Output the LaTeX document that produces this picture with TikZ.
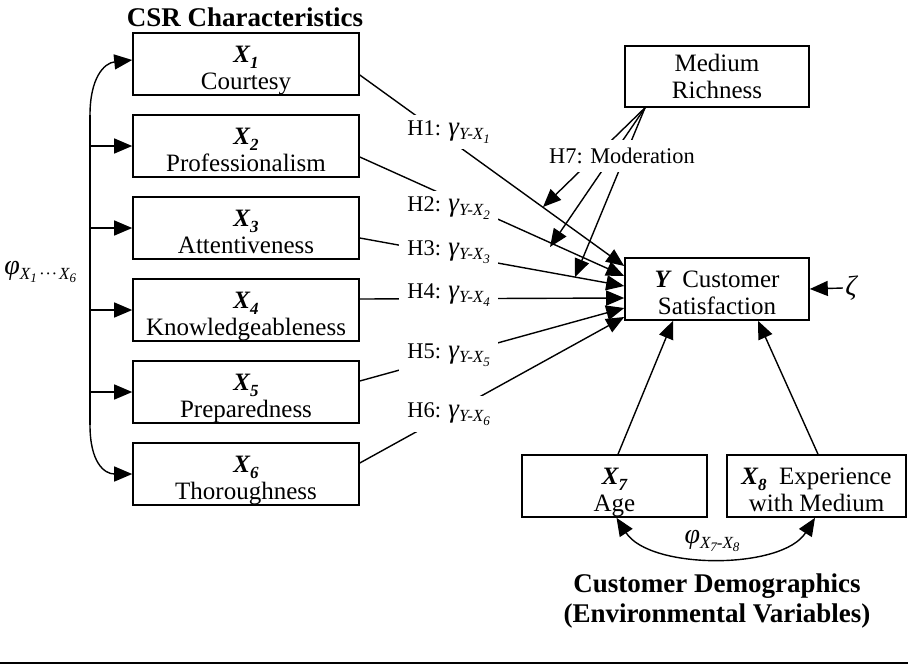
\documentclass[tikz,border=0pt]{standalone}
\usepackage{fontspec}
\setmainfont{Liberation Serif}
\usetikzlibrary{arrows.meta}
\newcommand\bodyfont{\fontsize{12.5}{13.5}\selectfont}
\newcommand\lblfont{\fontsize{11.2}{12}\selectfont}
\newcommand\headfont{\fontsize{13.5}{15}\selectfont\bfseries}
\newcommand\sbs[1]{\raisebox{-0.45ex}{\fontsize{8.5}{9}\selectfont #1}}
\newcommand\ssbs[1]{\raisebox{-0.45ex}{\fontsize{6.5}{7}\selectfont #1}}
\newcommand\xv[1]{{\bfseries\itshape X\sbs{#1}}}
\newcommand\gam[1]{{\itshape{\fontsize{13.5}{14}\selectfont γ}\sbs{Y-X\ssbs{#1}}}}
\newcommand\twol[2]{\raisebox{-3.5pt}[\height][\depth]{\begin{tabular}{@{}c@{}}#1\\#2\end{tabular}}}
\begin{document}
\begin{tikzpicture}[x=0.5pt,y=-0.5pt,
  box/.style={draw,line width=0.8pt,inner sep=0pt,align=center,font=\bodyfont},
  lbox/.style={box,minimum width=113pt,minimum height=31pt},
  arr/.style={-{Triangle[length=9pt,width=7.5pt]},line width=0.7pt},
  dbl/.style={{Triangle[length=9pt,width=7.5pt]}-{Triangle[length=9pt,width=7.5pt]},line width=0.7pt},
  hl/.style={anchor=west,fill=white,inner xsep=4pt,inner ysep=3pt,font=\lblfont},
  txt/.style={font=\bodyfont,inner sep=1pt}]
\useasboundingbox (0,0) rectangle (908,664);
\renewcommand\arraystretch{1.0}
\setlength\tabcolsep{0pt}

% title
\node[font=\headfont] (csr) at (245,17) {CSR Characteristics};

% left boxes
\node[lbox] (x1) at (246,64) {\twol{\xv{1}}{Courtesy}};
\node[lbox] (x2) at (246,146) {\twol{\xv{2}}{Professionalism}};
\node[lbox] (x3) at (246,228) {\twol{\xv{3}}{Attentiveness}};
\node[lbox] (x4) at (246,310) {\twol{\xv{4}}{Knowledgeableness}};
\node[lbox] (x5) at (246,392) {\twol{\xv{5}}{Preparedness}};
\node[lbox] (x6) at (246,474) {\twol{\xv{6}}{Thoroughness}};

% right boxes
\node[box,minimum width=92pt,minimum height=30.5pt] (med) at (717,76.5) {Medium\\Richness};
\node[box,minimum width=92pt,minimum height=31pt] (y) at (717,289) {\twol{{\bfseries\itshape Y}\ \ Customer}{Satisfaction}};
\node[box,minimum width=92.5pt,minimum height=31pt] (age) at (614.5,486) {\twol{\xv{7}}{Age}};
\node[box,minimum width=89.5pt,minimum height=31pt] (x8) at (816.5,486) {\twol{\xv{8}\ \ Experience}{with Medium}};

% left bracket
\coordinate (bt) at (90,115);
\coordinate (bb) at (90,425);
\draw[line width=0.7pt] (bt) -- (bb);
\draw[arr] (bt) .. controls (90,78) and (104,63) .. ([yshift=2pt]x1.west);
\draw[arr] (bb) .. controls (90,462) and (104,474) .. (x6.west);
\foreach \n in {x2,x3,x4,x5}{\draw[arr] (\n.west -| bt) -- (\n.west);}
\node[txt,anchor=west] (phi) at (2,272) {{\itshape{\fontsize{14}{14}\selectfont φ}\sbs{X\ssbs{1}\,·\kern1pt·\kern1pt·\,X\ssbs{6}}}};

% H paths
\draw[arr] ([yshift=-5.5pt]x1.east) -- ([yshift=11.5pt]y.west);
\draw[arr] ([yshift=-5.5pt]x2.east) -- ([yshift=6.5pt]y.west);
\draw[arr] ([yshift=-5pt]x3.east) -- ([yshift=1.5pt]y.west);
\draw[arr] ([yshift=5.5pt]x4.east) -- ([yshift=-4.5pt]y.west);
\draw[arr] ([yshift=5.5pt]x5.east) -- ([yshift=-9.5pt]y.west);
\draw[arr] ([yshift=5.5pt]x6.east) -- ([yshift=-14pt]y.west);
\node[hl] (h1) at (399,132) {H1: \gam{1}};
\node[hl] (h2) at (399,208) {H2: \gam{2}};
\node[hl] (h3) at (399,252) {H3: \gam{3}};
\node[hl] (h4) at (399,295) {H4: \gam{4}};
\node[hl] (h5) at (399,355) {H5: \gam{5}};
\node[hl] (h6) at (399,414) {H6: \gam{6}};

% moderation
\coordinate (m1) at (543,207);
\coordinate (m2) at (550,247);
\coordinate (m3) at (575,277);
\foreach \m in {m1,m2,m3}{\draw[arr] ([xshift=-36pt]med.south) -- (\m);}
\node[fill=white,inner xsep=2pt,inner ysep=4pt,font=\lblfont] (h7) at (622,156) {H7: Moderation};

% zeta
\node[txt] (z) at (851,288) {{\itshape\fontsize{14}{14}\selectfont ζ}};
\draw[arr] (z.west) -- (y.east);

% demographics
\draw[arr] ([xshift=1.75pt]age.north) -- ([xshift=-22pt]y.south);
\draw[arr] ([xshift=0.75pt]x8.north) -- ([xshift=20.5pt]y.south);
\draw[dbl] ([xshift=1pt]age.south) .. controls (650,570) and (782,570) .. ([xshift=-0.75pt]x8.south);
\node[txt] (phi78) at (712,541) {{\itshape{\fontsize{14}{14}\selectfont φ}\sbs{X\ssbs{7}-X\ssbs{8}}}};
\node[font=\headfont,align=center] (dem) at (717,601) {Customer Demographics\\(Environmental Variables)};

% bottom rule
\coordinate (r1) at (0,663);
\coordinate (r2) at (908,663);
\draw[line width=0.9pt] (r1) -- (r2);
\end{tikzpicture}
\end{document}
